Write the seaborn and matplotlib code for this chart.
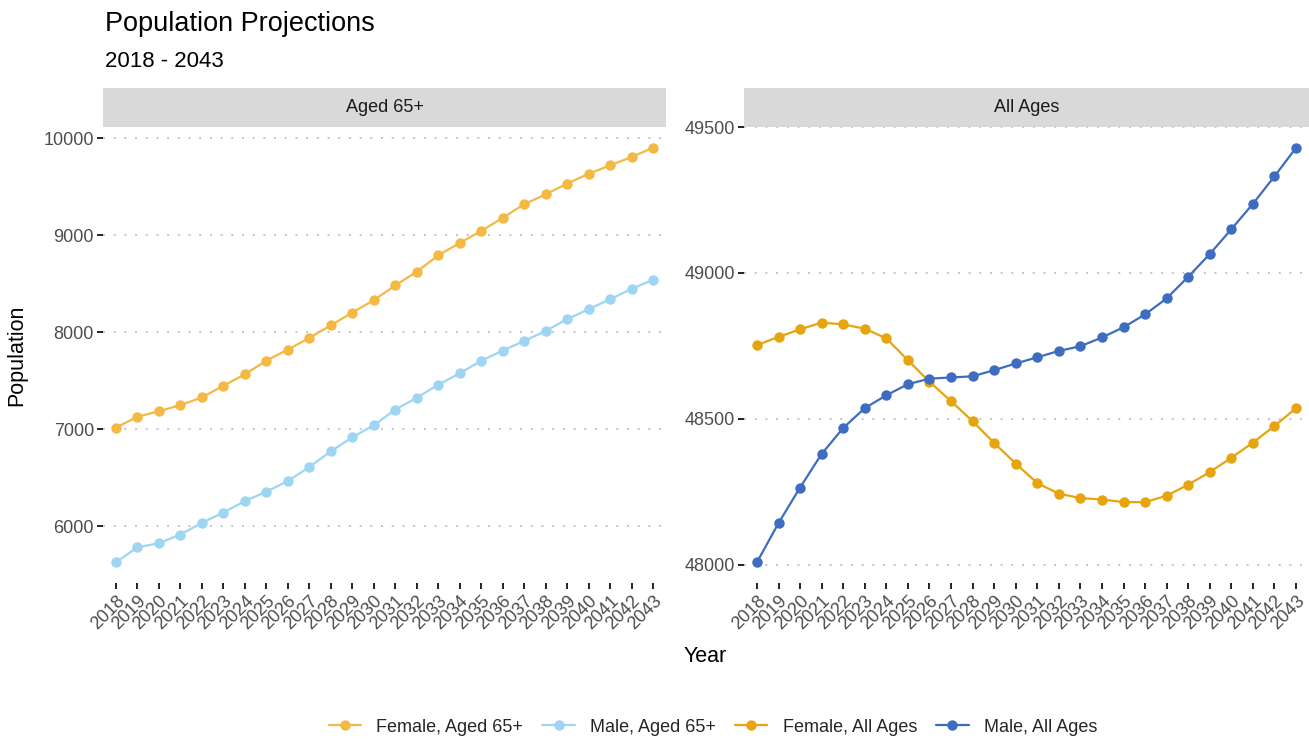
import matplotlib
import matplotlib.pyplot as plt
from matplotlib.lines import Line2D
from matplotlib.ticker import MultipleLocator
import pandas as pd
import seaborn as sns


matplotlib.use('Agg')

# Values
years = list(range(2018, 2044))

female_aged65 = [7017, 7128, 7186, 7248, 7328, 7448, 7566, 7707, 7821, 7941,
                 8072, 8203, 8331, 8483, 8624, 8793, 8921, 9045, 9179, 9321,
                 9421, 9534, 9634, 9721, 9807, 9903]
male_aged65 = [5628, 5783, 5824, 5914, 6034, 6141, 6259, 6355, 6466, 6610,
               6772, 6917, 7041, 7203, 7324, 7459, 7576, 7707, 7810, 7910,
               8014, 8134, 8238, 8341, 8448, 8541]
female_all = [48753, 48781, 48807, 48830, 48824, 48809, 48776, 48701, 48627, 48561,
              48492, 48418, 48347, 48280, 48244, 48229, 48224, 48215, 48215, 48237,
              48275, 48318, 48367, 48419, 48476, 48537]
male_all = [48009, 48143, 48265, 48380, 48469, 48537, 48581, 48619, 48638, 48642,
            48646, 48667, 48690, 48711, 48733, 48749, 48779, 48814, 48858, 48913,
            48987, 49065, 49150, 49237, 49331, 49429]

panels = ['Aged 65+', 'All Ages']
series_names = ['Female, Aged 65+', 'Male, Aged 65+', 'Female, All Ages', 'Male, All Ages']
series_panels = ['Aged 65+', 'Aged 65+', 'All Ages', 'All Ages']
series_values = [female_aged65, male_aged65, female_all, male_all]
colours = ['#f4b942', '#9dd5f2', '#e6a50e', '#3e6cc0']
y_steps = [1000, 500]


def build_frame():
    """Stack the series into one long DataFrame."""
    frames = []
    for name, panel, values in zip(series_names, series_panels, series_values):
        frames.append(pd.DataFrame({'Year': years, 'Population': values,
                                    'Series': name, 'Panel': panel}))
    return pd.concat(frames, ignore_index=True)


def px(x, y, w, h, W=1309, H=740):
    """Pixel box (top-left origin) to figure fraction rect."""
    return [x / W, 1 - (y + h) / H, w / W, h / H]


def main():
    sns.set_theme(style='white')
    plt.rcParams['font.family'] = ['Liberation Sans', 'DejaVu Sans']

    data = build_frame()
    palette = dict(zip(series_names, colours))

    fig = plt.figure(figsize=(13.09, 7.4), dpi=100)

    boxes = [(103, 563), (744, 565)]
    for panel, (x0, w), step in zip(panels, boxes, y_steps):
        ax = fig.add_axes(px(x0, 127, w, 456))
        sub = data[data['Panel'] == panel]
        sns.lineplot(data=sub, x='Year', y='Population', hue='Series', palette=palette,
                     marker='o', markersize=7.5, markeredgewidth=0, linewidth=1.6,
                     ax=ax, legend=False)
        ax.set_xlim(years[0] - 0.6, years[-1] + 0.6)
        ax.margins(y=0.05)
        ax.yaxis.set_major_locator(MultipleLocator(step))
        ax.set_xticks(years)
        ax.set_xticklabels([str(y) for y in years], rotation=45, ha='right', va='top',
                           rotation_mode='anchor')
        ax.set_xlabel('')
        ax.set_ylabel('')
        for s in ax.spines.values():
            s.set_visible(False)
        ax.yaxis.grid(True, linestyle=(0, (1, 4.5)), color='#c4c4c4', linewidth=1.4)
        ax.xaxis.grid(False)
        ax.set_axisbelow(True)
        ax.tick_params(axis='both', length=4.5, width=1.4, color='#222222', pad=2,
                       labelsize=13, labelcolor='#4d4d4d', bottom=True, left=True)

        # facet strip
        strip = fig.add_axes(px(x0, 88, w, 39))
        strip.set_facecolor('#d9d9d9')
        strip.set_xticks([])
        strip.set_yticks([])
        for s in strip.spines.values():
            s.set_visible(False)
        strip.text(0.5, 0.5, panel, ha='center', va='center', fontsize=13, color='#1a1a1a',
                   transform=strip.transAxes)

    fig.text(105 / 1309, 1 - 31 / 740, 'Population Projections', fontsize=19.5,
             va='baseline', color='black')
    fig.text(105 / 1309, 1 - 67 / 740, '2018 - 2043', fontsize=16, va='baseline',
             color='black')
    fig.text(705 / 1309, 1 - 662 / 740, 'Year', fontsize=15.5, ha='center',
             va='baseline', color='black')
    fig.text(17 / 1309, 1 - 355 / 740, 'Population', fontsize=15.5, ha='center',
             va='center', rotation=90, color='black')

    handles = [Line2D([0], [0], color=c, marker='o', markersize=7.5, markeredgewidth=0,
                      linewidth=1.6) for c in colours]
    fig.legend(handles, series_names, loc='center',
               bbox_to_anchor=(713 / 1309, 1 - 727 / 740),
               ncol=4, frameon=False, fontsize=13, handlelength=1.8,
               handletextpad=0.85, columnspacing=1.05)

    fig.savefig('out.png', dpi=100)
    plt.close(fig)


if __name__ == "__main__":
    main()
